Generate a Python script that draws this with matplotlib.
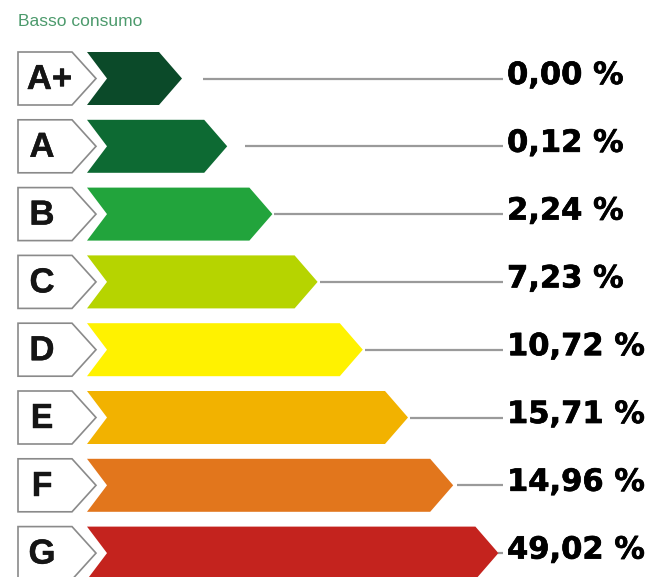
import matplotlib
matplotlib.use("Agg")
import matplotlib.pyplot as plt
from matplotlib.patches import Polygon
import matplotlib.patheffects as pe

# ---- data ----
classes = ["A+", "A", "B", "C", "D", "E", "F", "G"]
shares = [0.00, 0.12, 2.24, 7.23, 10.72, 15.71, 14.96, 49.02]
share_labels = ["0,00 %", "0,12 %", "2,24 %", "7,23 %", "10,72 %", "15,71 %", "14,96 %", "49,02 %"]
colors = ["#0b4a29", "#0d6a33", "#22a43c", "#b6d400", "#fff200", "#f2b200", "#e2761c", "#c4231e"]
title = "Basso consumo"

# ---- layout (pixel-like data units) ----
W, H = 650, 577
fig = plt.figure(figsize=(W / 100, H / 100), dpi=100)
ax = fig.add_axes([0, 0, 1, 1])
ax.set_xlim(0, W)
ax.set_ylim(H, 0)
ax.axis("off")

row0, step, half = 78.5, 67.8, 26.5
box_l, box_r, box_tip = 18, 72, 96
bar_l, bar_notch = 87, 107
tip0, tip_step, head = 182, 45.2, 23
line_end, text_x = 503, 507
gaps = [21, 18, 2, 2, 2, 2, 4, 0]

ax.text(18, 21, title, color="#4c9a6c", fontsize=12.5,
        family=["Liberation Sans Narrow", "Liberation Sans", "DejaVu Sans"],
        va="center", ha="left")

for i, (cl, lab, col) in enumerate(zip(classes, share_labels, colors)):
    c = row0 + i * step
    top, bot = c - half, c + half
    box = Polygon([(box_l, top), (box_r, top), (box_tip, c), (box_r, bot), (box_l, bot)],
                  closed=True, facecolor="white", edgecolor="#8a8a8a", lw=1.2, zorder=2)
    ax.add_patch(box)
    ax.text(42 + (len(cl) - 1) * 7.5, c + 1, cl, fontsize=25, fontweight="bold",
            family=["Liberation Sans", "DejaVu Sans"], ha="center", va="center",
            color="#151515", zorder=3,
            path_effects=[pe.withStroke(linewidth=0.3, foreground="#151515")])
    tip = tip0 + i * tip_step
    bar = Polygon([(bar_l, top), (tip - head, top), (tip, c), (tip - head, bot),
                   (bar_l, bot), (bar_notch, c)],
                  closed=True, facecolor=col, edgecolor="none", zorder=2)
    ax.add_patch(bar)
    start = tip + gaps[i]
    if start < line_end:
        ax.plot([start, line_end], [c, c], color="#9a9a9a", lw=1.6,
                solid_capstyle="butt", zorder=1)
    ax.text(text_x, c - 3, lab, fontsize=22, fontweight="bold",
            family=["DejaVu Sans"], ha="left", va="center", color="black", zorder=3,
            path_effects=[pe.withStroke(linewidth=0.5, foreground="black")])

fig.savefig("out.png", dpi=100, facecolor="white")
